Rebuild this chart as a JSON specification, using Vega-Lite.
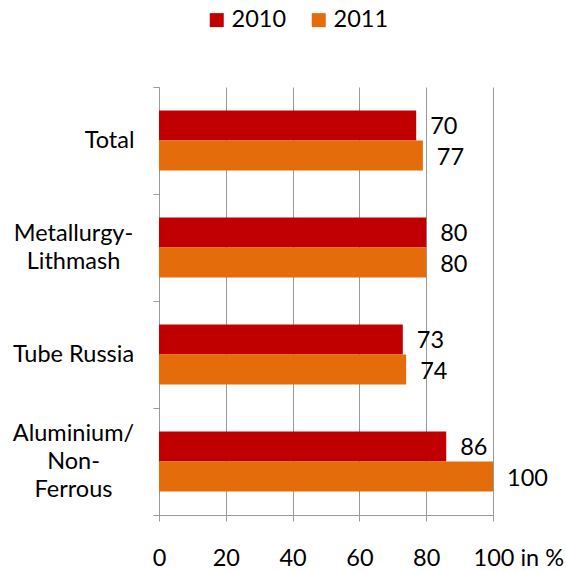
{
  "$schema": "https://vega.github.io/schema/vega-lite/v6.json",
  "autosize": {"type": "none"},
  "width": 334,
  "height": 428,
  "padding": {"left": 159, "top": 87, "right": 73, "bottom": 56},
  "data": {
    "values": [
      {"category": "Total", "year": "2010", "value": 77, "label": "70"},
      {"category": "Total", "year": "2011", "value": 79, "label": "77"},
      {"category": "Metallurgy-|Lithmash", "year": "2010", "value": 80, "label": "80"},
      {"category": "Metallurgy-|Lithmash", "year": "2011", "value": 80, "label": "80"},
      {"category": "Tube Russia", "year": "2010", "value": 73, "label": "73"},
      {"category": "Tube Russia", "year": "2011", "value": 74, "label": "74"},
      {"category": "Aluminium/|Non-|Ferrous", "year": "2010", "value": 86, "label": "86"},
      {"category": "Aluminium/|Non-|Ferrous", "year": "2011", "value": 100, "label": "100"}
    ]
  },
  "encoding": {
    "y": {
      "field": "category",
      "type": "nominal",
      "sort": ["Total", "Metallurgy-|Lithmash", "Tube Russia", "Aluminium/|Non-|Ferrous"],
      "scale": {"paddingInner": 0, "paddingOuter": 0},
      "axis": {
        "title": null,
        "tickBand": "extent",
        "tickSize": 6,
        "tickColor": "#999999",
        "domainColor": "#999999",
        "labelFont": "Lato",
        "labelFontSize": 23.5,
        "labelColor": "#000000",
        "labelLineHeight": 28,
        "labelExpr": "split(datum.label, '|')",
        "labelAlign": {"condition": {"test": "datum.value !== 'Total'", "value": "center"}, "value": "right"},
        "labelPadding": {"condition": {"test": "datum.value !== 'Total'", "value": 80}, "value": 19},
        "labelOffset": {"condition": [{"test": "datum.value === 'Aluminium/|Non-|Ferrous'", "value": -28}, {"test": "datum.value === 'Metallurgy-|Lithmash'", "value": -14}], "value": 0}
      }
    },
    "yOffset": {"field": "year", "type": "nominal", "scale": {"paddingInner": 0, "paddingOuter": 0.783}},
    "x": {
      "field": "value",
      "type": "quantitative",
      "scale": {"domain": [0, 100], "nice": false},
      "axis": {
        "title": null,
        "values": [0, 20, 40, 60, 80, 100],
        "grid": true,
        "gridColor": "#999999",
        "tickSize": 6,
        "tickColor": "#999999",
        "domainColor": "#999999",
        "labelFont": "Lato",
        "labelFontSize": 23.5,
        "labelColor": "#000000",
        "labelPadding": 25,
        "labelOverlap": false,
        "labelFlush": false,
        "labelBound": false,
        "labelExpr": "datum.value === 100 ? '100 in %' : datum.label",
        "labelAlign": {"condition": {"test": "datum.value === 100", "value": "left"}, "value": "center"},
        "labelOffset": {"condition": {"test": "datum.value === 100", "value": -20}, "value": 0}
      }
    }
  },
  "layer": [
    {
      "mark": {"type": "bar"},
      "encoding": {
        "color": {
          "field": "year",
          "type": "nominal",
          "scale": {"domain": ["2010", "2011"], "range": ["#C00000", "#E46C0A"]},
          "legend": {
            "title": null,
            "orient": "none",
            "legendX": 46,
            "legendY": -79,
            "direction": "horizontal",
            "symbolType": "square",
            "symbolSize": 196,
            "symbolStrokeWidth": 0,
            "labelFont": "Lato",
            "labelFontSize": 23.5,
            "labelColor": "#000000",
            "columnPadding": 20,
            "labelOffset": 3
          }
        }
      }
    },
    {
      "mark": {"type": "text", "align": "left", "baseline": "middle", "dx": 14, "dy": 2, "font": "Lato", "fontSize": 23.5, "color": "#000000"},
      "encoding": {"text": {"field": "label"}}
    }
  ],
  "config": {"view": {"stroke": null}}
}
